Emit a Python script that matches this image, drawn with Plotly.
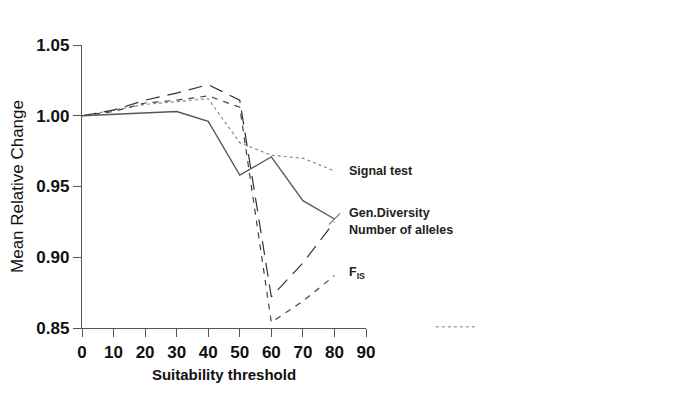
import plotly.graph_objects as go

# data
thresholds = [0, 10, 20, 30, 40, 50, 60, 70, 80]
gen_diversity = [1.000, 1.001, 1.002, 1.003, 0.996, 0.958, 0.971, 0.940, 0.927]
num_alleles = [1.000, 1.004, 1.011, 1.016, 1.022, 1.011, 0.872, 0.896, 0.925]
fis = [1.000, 1.003, 1.009, 1.011, 1.014, 1.006, 0.854, 0.869, 0.887]
signal_test = [1.000, 1.004, 1.008, 1.010, 1.012, 0.981, 0.972, 0.970, 0.961]

x_ticks = [0, 10, 20, 30, 40, 50, 60, 70, 80, 90]
y_ticks = [0.85, 0.90, 0.95, 1.00, 1.05]

series_labels = ["Signal test", "Gen.Diversity", "Number of alleles", "F<sub>IS</sub>"]
label_y = [0.961, 0.9315, 0.919, 0.889]

font_family = "Liberation Sans, Arial, sans-serif"

fig = go.Figure()

fig.add_trace(go.Scatter(x=thresholds, y=signal_test, mode='lines',
                         line=dict(color='#8a8a8a', width=1.2, dash='dot')))
fig.add_trace(go.Scatter(x=thresholds, y=fis, mode='lines',
                         line=dict(color='#444444', width=1.2, dash='6px,6px')))
fig.add_trace(go.Scatter(x=thresholds, y=num_alleles, mode='lines',
                         line=dict(color='#333333', width=1.2, dash='14px,8px')))
fig.add_trace(go.Scatter(x=thresholds, y=gen_diversity, mode='lines+markers',
                         line=dict(color='#555555', width=1.3),
                         marker=dict(symbol='line-ne-open',
                                     size=[0] * 8 + [11],
                                     line=dict(color='#555555', width=1.3))))

# series labels to the right of the lines
for text, yv in zip(series_labels, label_y):
    fig.add_annotation(x=0.933, xref='paper', y=yv, yref='y',
                       text="<b>" + text + "</b>", showarrow=False,
                       xanchor='left', yanchor='middle',
                       font=dict(size=12.5, family=font_family, color='#222222'))

# small dotted speck at the bottom right of the original
fig.add_shape(type='line', xref='paper', yref='paper', x0=1.246, x1=1.391, y0=0.004, y1=0.004,
              line=dict(color='#aaaaaa', width=1.5, dash='dot'))

axis_common = dict(
    showline=True, linecolor='#555555', linewidth=1.3,
    ticks='outside', ticklen=8, tickwidth=1.3, tickcolor='#555555',
    showgrid=False, zeroline=False, automargin=False,
    tickfont=dict(size=17, family=font_family, color='#111111', weight='bold'),
)

# the page body adds ~8px of offset, margins compensate for it
fig.update_layout(
    width=685, height=411,
    margin=dict(l=74, r=327, t=37, b=91),
    paper_bgcolor='white', plot_bgcolor='white',
    showlegend=False,
    xaxis=dict(range=[0, 90], tickvals=x_ticks, **axis_common,
               title=dict(text="Suitability threshold", standoff=8,
                          font=dict(size=15, family=font_family, color='#111111', weight='bold'))),
    yaxis=dict(range=[0.85, 1.05], tickvals=y_ticks, tickformat='.2f', **axis_common,
               title=dict(text="Mean Relative Change", standoff=10,
                          font=dict(size=17, family=font_family, color='#111111'))),
)

fig.write_html("out.html")
